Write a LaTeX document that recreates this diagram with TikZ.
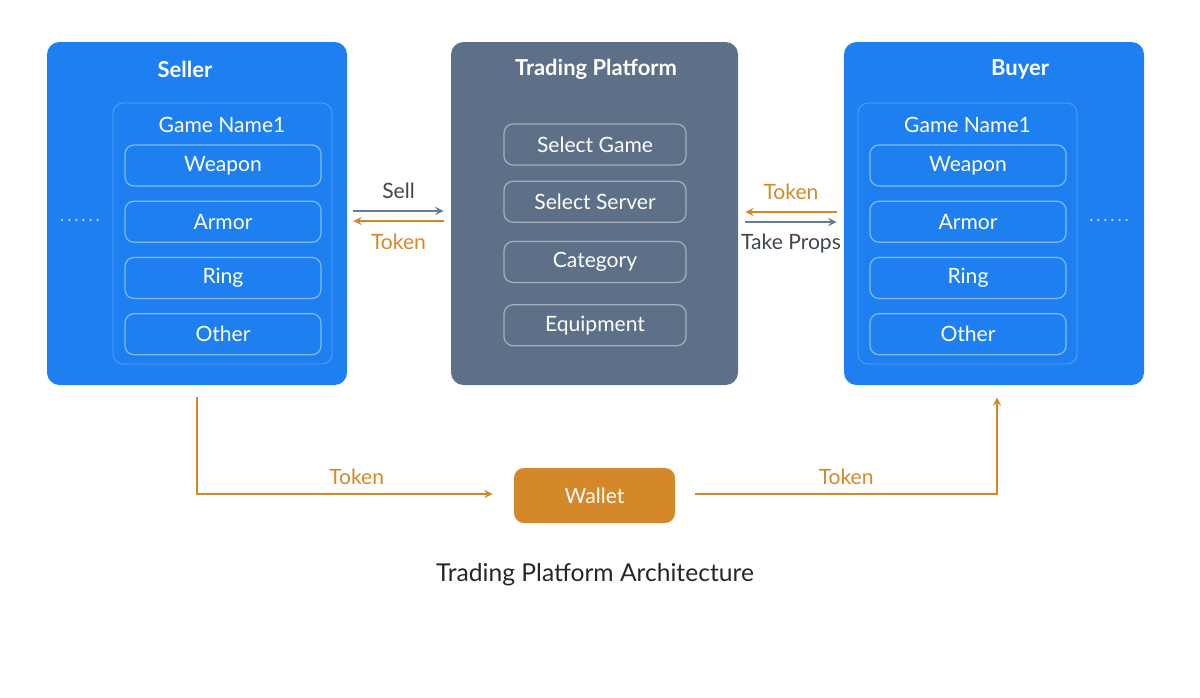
\documentclass[tikz,border=0pt]{standalone}
\usepackage{fontspec}
\setmainfont{Lato}
\usepackage{tikz}
\usetikzlibrary{arrows, positioning, calc}
\definecolor{tpblue}{HTML}{1E80F0}
\definecolor{tpslate}{HTML}{5E6F88}
\definecolor{tporange}{HTML}{D4882A}
\definecolor{tpgray}{HTML}{6A7A92}
\definecolor{tptext}{HTML}{3E4650}
\tikzstyle{party}=[rectangle, fill=tpblue, minimum width=6cm, minimum height=6.86cm, rounded corners=0.25cm]
\tikzstyle{platform}=[rectangle, fill=tpslate, minimum width=5.74cm, minimum height=6.86cm, rounded corners=0.25cm]
\tikzstyle{gamebox}=[rectangle, draw=white, draw opacity=0.25, line width=0.5pt, minimum width=4.38cm, minimum height=5.22cm, rounded corners=0.2cm]
\tikzstyle{item}=[rectangle, draw=white, draw opacity=0.45, line width=0.7pt, text=white, minimum width=3.92cm, minimum height=0.82cm, rounded corners=0.18cm, font=\fontsize{12}{14}\selectfont]
\tikzstyle{title}=[text=white, font=\fontsize{12.5}{15}\selectfont\bfseries]
\tikzstyle{gamename}=[text=white, font=\fontsize{12}{14}\selectfont]
\tikzstyle{dots}=[text=white!70!tpblue, font=\fontsize{10}{12}\selectfont]
\tikzstyle{wallet}=[rectangle, fill=tporange, text=white, minimum width=3.22cm, minimum height=1.1cm, rounded corners=0.2cm, font=\fontsize{12}{14}\selectfont]
\tikzstyle{grayarrow}=[draw=tpgray, line width=1.1pt, ->, >=stealth]
\tikzstyle{tokenarrow}=[draw=tporange, line width=1.1pt, ->, >=stealth]
\tikzstyle{graylabel}=[text=tptext, font=\fontsize{12}{14}\selectfont]
\tikzstyle{tokenlabel}=[text=tporange, font=\fontsize{12}{14}\selectfont]

\begin{document}
\begin{tikzpicture}[node distance=0.28cm]
    \useasboundingbox (0,0) rectangle (24,-13.94);

    % seller
    \node[party] (seller) at (3.94,-4.27) {};
    \node[title] (sellertitle) at (3.7,-1.38) {Seller};
    \node[gamebox] (sellergame) at (4.45,-4.67) {};
    \node[gamename] (sellername) at (4.44,-2.5) {Game Name1};
    \node[item] (sweapon) at (4.46,-3.31) {Weapon};
    \node[item, below=of sweapon] (sarmor) {Armor};
    \node[item, below=of sarmor] (sring) {Ring};
    \node[item, below=of sring] (sother) {Other};
    \node[dots] (sdots) at (1.6,-4.42) {.\,.\,.\,.\,.\,.};

    % platform
    \node[platform] (platform) at (11.89,-4.27) {};
    \node[title] (platformtitle) at (11.92,-1.38) {Trading Platform};
    \node[item, minimum width=3.64cm] (selgame) at (11.9,-2.89) {Select Game};
    \node[item, minimum width=3.64cm, below=0.3cm of selgame] (selserver) {Select Server};
    \node[item, minimum width=3.64cm, below=0.36cm of selserver] (category) {Category};
    \node[item, minimum width=3.64cm, below=0.42cm of category] (equip) {Equipment};

    % buyer
    \node[party] (buyer) at (19.88,-4.27) {};
    \node[title] (buyertitle) at (20.4,-1.38) {Buyer};
    \node[gamebox] (buyergame) at (19.35,-4.67) {};
    \node[gamename] (buyername) at (19.35,-2.5) {Game Name1};
    \node[item] (bweapon) at (19.36,-3.31) {Weapon};
    \node[item, below=of bweapon] (barmor) {Armor};
    \node[item, below=of barmor] (bring) {Ring};
    \node[item, below=of bring] (bother) {Other};
    \node[dots] (bdots) at (22.18,-4.42) {.\,.\,.\,.\,.\,.};

    % wallet + caption
    \node[wallet] (wallet) at (11.89,-9.91) {Wallet};
    \node[text=black!85, font=\fontsize{14}{16}\selectfont] (caption) at (11.9,-11.5) {Trading Platform Architecture};

    \coordinate (sout) at ($(seller.south)+(0,-0.24)$);
    \coordinate (sturn) at ($(sout |- wallet.west)+(0,0.03)$);
    \coordinate (bin) at ($(buyer.south)+(0.06,-0.24)$);
    \coordinate (bturn) at ($(bin |- wallet.east)+(0,0.03)$);

    \draw[grayarrow] ([xshift=0.12cm, yshift=0.05cm]seller.east) -- node[graylabel, above=0.12cm]{Sell} ([xshift=-0.14cm, yshift=0.05cm]platform.west);
    \draw[tokenarrow] ([xshift=-0.14cm, yshift=-0.15cm]platform.west) -- node[tokenlabel, below=0.12cm]{Token} ([xshift=0.12cm, yshift=-0.15cm]seller.east);
    \draw[tokenarrow] ([xshift=-0.14cm, yshift=0.03cm]buyer.west) -- node[tokenlabel, above=0.12cm]{Token} ([xshift=0.14cm, yshift=0.03cm]platform.east);
    \draw[grayarrow] ([xshift=0.14cm, yshift=-0.17cm]platform.east) -- node[graylabel, below=0.1cm]{Take Props} ([xshift=-0.14cm, yshift=-0.17cm]buyer.west);
    \draw[tokenarrow] (sout) -- (sturn) -- node[tokenlabel, above=0.05cm, pos=0.54]{Token} ([xshift=-0.42cm]wallet.west |- sturn);
    \draw[tokenarrow] ([xshift=0.4cm]wallet.east |- bturn) -- node[tokenlabel, above=0.05cm, pos=0.5]{Token} (bturn) -- (bin);
\end{tikzpicture}
\end{document}
